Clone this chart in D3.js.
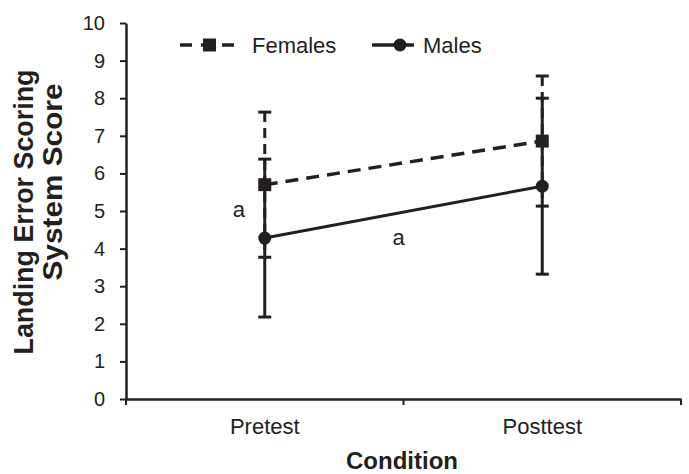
<!DOCTYPE html>
<html>
<head>
<meta charset="utf-8">
<script src="https://cdn.jsdelivr.net/npm/d3@7"></script>
<style>
  body { margin: 0; background: #fff; }
  text { font-family: "Liberation Sans", Arial, sans-serif; fill: #231f20; }
</style>
</head>
<body>
<svg width="689" height="474"></svg>
<script>
// data
var conditions = ["Pretest", "Posttest"];
var femaleMean = [5.7, 6.86];
var femaleSD = [1.93, 1.73];
var maleMean = [4.28, 5.66];
var maleSD = [2.1, 2.34];
var yTicks = [0, 1, 2, 3, 4, 5, 6, 7, 8, 9, 10];

var ink = "#231f20";

var svg = d3.select("svg"),
    margin = {top: 23, right: 8, bottom: 75, left: 126},
    width = +svg.attr("width") - margin.left - margin.right,
    height = +svg.attr("height") - margin.top - margin.bottom;

var x = d3.scaleBand().domain(conditions).range([0, width]);
var y = d3.scaleLinear().domain([0, 10]).range([height, 0]);

var g = svg.append("g")
    .attr("transform", "translate(" + margin.left + "," + margin.top + ")");

// axes
var yAxis = g.append("g")
    .call(d3.axisLeft(y).tickValues(yTicks).tickSize(6).tickPadding(15).tickSizeOuter(0));
var xAxis = g.append("g")
    .attr("transform", "translate(0," + height + ")")
    .call(d3.axisBottom(x).tickSize(0).tickPadding(19));

// band boundary ticks on x axis
g.append("g").selectAll("line")
  .data([0, 1, 2])
  .enter().append("line")
    .attr("x1", function(d) { return d * x.step(); })
    .attr("x2", function(d) { return d * x.step(); })
    .attr("y1", height)
    .attr("y2", height + 6)
    .attr("stroke", ink)
    .attr("stroke-width", 2);

[yAxis, xAxis].forEach(function(a) {
  a.select(".domain").attr("stroke", ink).attr("stroke-width", 2.5);
  a.selectAll(".tick line").attr("stroke", ink).attr("stroke-width", 2);
  a.selectAll(".tick text").attr("fill", ink);
});
yAxis.selectAll(".tick text").style("font-size", "20px");
xAxis.selectAll(".tick text").style("font-size", "22px");

function cx(i) { return x(conditions[i]) + x.bandwidth() / 2; }

var line = d3.line()
    .x(function(d, i) { return cx(i); })
    .y(function(d) { return y(d); });

// error bars
function errorBars(mean, sd, dashed) {
  var eb = g.append("g");
  mean.forEach(function(m, i) {
    var lo = m - sd[i], hi = m + sd[i];
    eb.append("line")
      .attr("x1", cx(i)).attr("x2", cx(i))
      .attr("y1", y(hi)).attr("y2", y(lo))
      .attr("stroke", ink).attr("stroke-width", 3)
      .attr("stroke-dasharray", dashed ? "10,6" : null);
    [lo, hi].forEach(function(v) {
      eb.append("line")
        .attr("x1", cx(i) - 6.5).attr("x2", cx(i) + 6.5)
        .attr("y1", y(v)).attr("y2", y(v))
        .attr("stroke", ink).attr("stroke-width", 3);
    });
  });
}

errorBars(femaleMean, femaleSD, true);
errorBars(maleMean, maleSD, false);

// series lines
g.append("path")
    .datum(femaleMean)
    .attr("d", line)
    .attr("fill", "none")
    .attr("stroke", ink)
    .attr("stroke-width", 3.5)
    .attr("stroke-dasharray", "13,8");

g.append("path")
    .datum(maleMean)
    .attr("d", line)
    .attr("fill", "none")
    .attr("stroke", ink)
    .attr("stroke-width", 3);

// markers
g.selectAll(".sq")
  .data(femaleMean)
  .enter().append("rect")
    .attr("x", function(d, i) { return cx(i) - 6.5; })
    .attr("y", function(d) { return y(d) - 6.5; })
    .attr("width", 13)
    .attr("height", 13)
    .attr("fill", ink);

g.selectAll(".dot")
  .data(maleMean)
  .enter().append("circle")
    .attr("cx", function(d, i) { return cx(i); })
    .attr("cy", function(d) { return y(d); })
    .attr("r", 6.5)
    .attr("fill", ink);

// significance letters
g.append("text")
    .attr("x", cx(0) - 26)
    .attr("y", y(4.84))
    .attr("text-anchor", "middle")
    .style("font-size", "22px")
    .text("a");
g.append("text")
    .attr("x", (cx(0) + cx(1)) / 2 - 5)
    .attr("y", y(4.1))
    .attr("text-anchor", "middle")
    .style("font-size", "22px")
    .text("a");

// legend
var legend = svg.append("g").attr("transform", "translate(0,45)");
legend.append("line")
    .attr("x1", 180).attr("x2", 234).attr("y1", 0).attr("y2", 0)
    .attr("stroke", ink).attr("stroke-width", 3.5)
    .attr("stroke-dasharray", "12,9");
legend.append("rect")
    .attr("x", 203).attr("y", -6.5).attr("width", 13).attr("height", 13)
    .attr("fill", ink);
legend.append("text")
    .attr("x", 252).attr("y", 8)
    .style("font-size", "22px")
    .text("Females");
legend.append("line")
    .attr("x1", 372).attr("x2", 414).attr("y1", 0).attr("y2", 0)
    .attr("stroke", ink).attr("stroke-width", 3.5);
legend.append("circle")
    .attr("cx", 400).attr("cy", 0).attr("r", 6.5)
    .attr("fill", ink);
legend.append("text")
    .attr("x", 423).attr("y", 8)
    .style("font-size", "22px")
    .text("Males");

// axis titles
svg.append("text")
    .attr("transform", "translate(33,212) rotate(-90)")
    .attr("text-anchor", "middle")
    .attr("textLength", 285)
    .attr("lengthAdjust", "spacingAndGlyphs")
    .style("font-size", "27px")
    .style("font-weight", "bold")
    .text("Landing Error Scoring");
svg.append("text")
    .attr("transform", "translate(62,182) rotate(-90)")
    .attr("text-anchor", "middle")
    .attr("textLength", 197)
    .attr("lengthAdjust", "spacingAndGlyphs")
    .style("font-size", "27px")
    .style("font-weight", "bold")
    .text("System Score");

svg.append("text")
    .attr("x", 402)
    .attr("y", 469)
    .attr("text-anchor", "middle")
    .style("font-size", "24px")
    .style("font-weight", "bold")
    .text("Condition");
</script>
</body>
</html>
